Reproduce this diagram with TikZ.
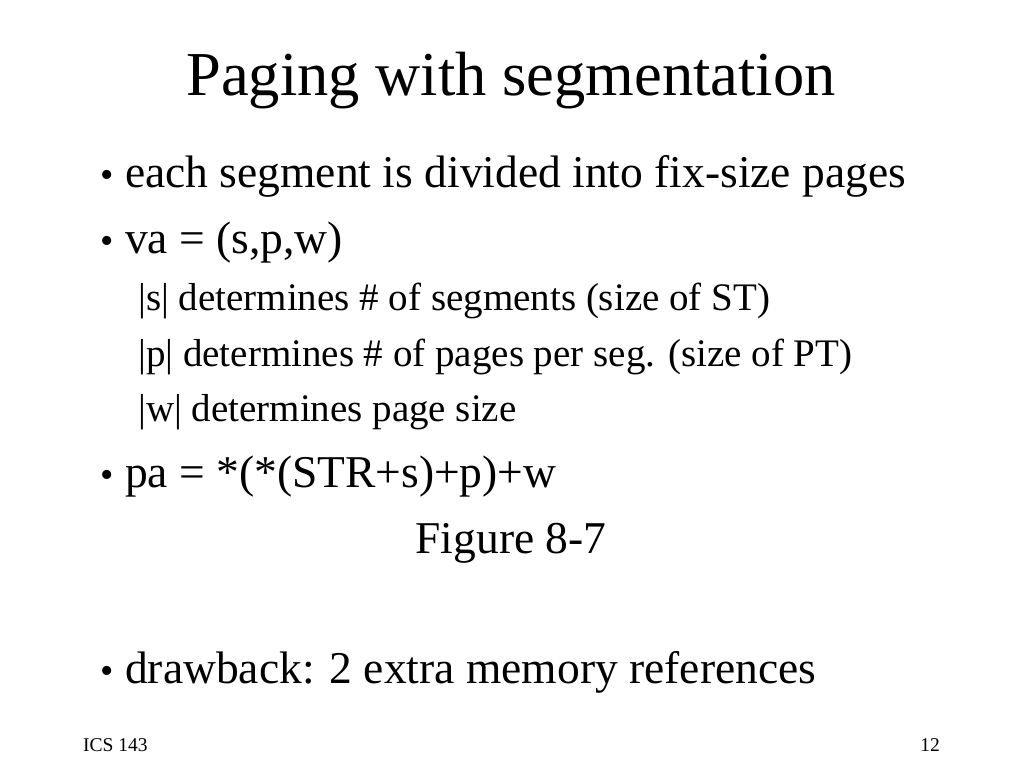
\documentclass[tikz,border=0pt]{standalone}
\usepackage{fontspec}
\setmainfont{Liberation Serif}
\begin{document}
\begin{tikzpicture}[x=1pt,y=-1pt,
  big/.style={anchor=base west,inner sep=0pt,font=\fontsize{45.5}{50}\selectfont},
  sub/.style={anchor=base west,inner sep=0pt,font=\fontsize{39}{44}\selectfont},
  dot/.style={anchor=base west,inner sep=0pt,font=\fontsize{38}{44}\selectfont}]
\useasboundingbox (0,0) rectangle (1024,768);
\node[anchor=base,inner sep=0pt,font=\fontsize{62.5}{70}\selectfont] (title) at (511,95) {Paging with segmentation};
\node[dot] (d1) at (100,187) {•}; \node[big] (b1) at (125,187) {each segment is divided into fix-size pages};
\node[dot] (d2) at (100,253) {•}; \node[big] (b2) at (125,253) {va = (s,p,w)};
\node[sub] (s1) at (138,310) {|s| determines \# of segments (size of ST)};
\node[sub] (s2) at (138,366) {|p| determines \# of pages per seg. (size of PT)};
\node[sub] (s3) at (138,421) {|w| determines page size};
\node[dot] (d3) at (100,487) {•}; \node[big] (b3) at (125,487) {pa = *(*(STR+s)+p)+w};
\node[anchor=base,inner sep=0pt,font=\fontsize{45.5}{50}\selectfont] (fig) at (511,553) {Figure 8-7};
\node[dot] (d4) at (100,683) {•}; \node[big] (b4) at (125,683) {drawback: 2 extra memory references};
\node[anchor=base west,inner sep=0pt,font=\fontsize{19.5}{22}\selectfont] (f1) at (83,751) {ICS 143};
\node[anchor=base east,inner sep=0pt,font=\fontsize{19.5}{22}\selectfont] (f2) at (940,751) {12};
\end{tikzpicture}
\end{document}
